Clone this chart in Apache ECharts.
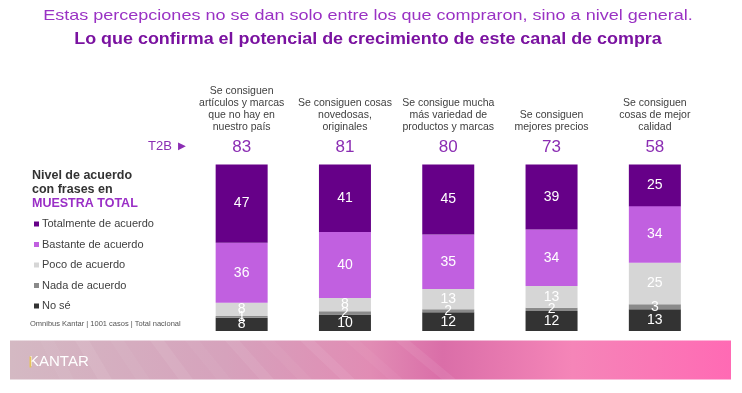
<!DOCTYPE html>
<html>
<head>
<meta charset="utf-8">
<script src="https://cdn.jsdelivr.net/npm/echarts@6/dist/echarts.min.js"></script>
<style>html,body{margin:0;padding:0;background:#fff}#c{width:742px;height:393px}</style>
</head>
<body>
<div id="c"></div>
<script>
const categories = [
  'Se consiguen\nartículos y marcas\nque no hay en\nnuestro país',
  'Se consiguen cosas\nnovedosas,\noriginales',
  'Se consigue mucha\nmás variedad de\nproductos y marcas',
  'Se consiguen\nmejores precios',
  'Se consiguen\ncosas de mejor\ncalidad'
];
const t2b = ['83', '81', '80', '73', '58'];
const totalmente = [47, 41, 45, 39, 25];
const bastante = [36, 40, 35, 34, 34];
const poco = [8, 8, 13, 13, 25];
const nada = [1, 2, 2, 2, 3];
const nose = [8, 10, 12, 12, 13];
const seriesNames = ['Totalmente de acuerdo', 'Bastante de acuerdo', 'Poco de acuerdo', 'Nada de acuerdo', 'No sé'];

const FONT = 'Liberation Sans, Arial, sans-serif';
const colors = {
  'Totalmente de acuerdo': '#660088',
  'Bastante de acuerdo': '#c160e0',
  'Poco de acuerdo': '#d6d6d6',
  'Nada de acuerdo': '#8a8a8a',
  'No sé': '#333333'
};
const rawByName = {
  'Totalmente de acuerdo': totalmente,
  'Bastante de acuerdo': bastante,
  'Poco de acuerdo': poco,
  'Nada de acuerdo': nada,
  'No sé': nose
};
const sums = categories.map((_, i) => totalmente[i] + bastante[i] + poco[i] + nada[i] + nose[i]);

const stackOrder = ['No sé', 'Nada de acuerdo', 'Poco de acuerdo', 'Bastante de acuerdo', 'Totalmente de acuerdo'];
const series = stackOrder.map(name => ({
  name: name,
  type: 'bar',
  stack: 'total',
  barWidth: 52,
  itemStyle: { color: colors[name] },
  label: {
    show: true,
    position: 'inside',
    color: '#ffffff',
    fontSize: 14,
    fontFamily: FONT,
    formatter: p => p.data.raw
  },
  data: rawByName[name].map((v, i) => ({ value: v / sums[i] * 100, raw: v }))
}));

// decorative stripes on the footer banner
const stripes = [];
const stripeXs = [40, 75, 110, 150, 185, 225, 260, 300, 345, 395];
stripeXs.forEach((x, k) => {
  stripes.push({
    type: 'polygon',
    shape: { points: [[x, 340.5], [x + 14, 340.5], [x + 34 + k * 3, 379.5], [x + 20 + k * 3, 379.5]] },
    style: { fill: 'rgba(255,255,255,' + (k % 2 ? 0.07 : 0.04) + ')' },
    z: 2, silent: true
  });
});

const chart = echarts.init(document.getElementById('c'), null, { renderer: 'canvas' });
chart.setOption({
  animation: false,
  textStyle: { fontFamily: FONT },
  grid: { left: 190, right: 35.5, top: 164.5, bottom: 62 },
  legend: {
    data: seriesNames,
    orient: 'vertical',
    left: 29,
    top: 212,
    icon: 'rect',
    itemWidth: 5,
    itemHeight: 5,
    itemGap: 6.5,
    selectedMode: false,
    textStyle: { fontSize: 11, color: '#404040', lineHeight: 14, padding: [0, 0, 0, -2] }
  },
  xAxis: [
    {
      type: 'category',
      position: 'top',
      data: categories,
      axisLine: { show: false },
      axisTick: { show: false },
      axisLabel: {
        interval: 0,
        margin: 31.5,
        fontSize: 10.5,
        lineHeight: 12,
        color: '#404040',
        align: 'center',
        verticalAlign: 'bottom'
      }
    },
    {
      type: 'category',
      position: 'top',
      data: t2b,
      axisLine: { show: false },
      axisTick: { show: false },
      axisLabel: {
        interval: 0,
        margin: 9,
        fontSize: 17,
        color: '#8b2db3',
        verticalAlign: 'bottom'
      }
    }
  ],
  yAxis: { type: 'value', min: 0, max: 100, show: false },
  series: series,
  graphic: [
    {
      type: 'text', x: 368, y: 16, scaleX: 1.2,
      style: { text: 'Estas percepciones no se dan solo entre los que compraron, sino a nivel general.', fontSize: 15, fill: '#9a32c4', fontFamily: FONT, align: 'center', verticalAlign: 'middle' }
    },
    {
      type: 'text', x: 368, y: 40, scaleX: 1.12,
      style: { text: 'Lo que confirma el potencial de crecimiento de este canal de compra', fontSize: 16, fontWeight: 'bold', fill: '#7a12a0', fontFamily: FONT, align: 'center', verticalAlign: 'middle' }
    },
    {
      type: 'text', left: 148, top: 140,
      style: { text: 'T2B \u25BA', fontSize: 13, fill: '#8b2db3', fontFamily: FONT }
    },
    {
      type: 'text', left: 32, top: 169,
      style: { text: 'Nivel de acuerdo\ncon frases en', fontSize: 12.5, lineHeight: 14, fontWeight: 'bold', fill: '#333333', fontFamily: FONT }
    },
    {
      type: 'text', left: 32, top: 197,
      style: { text: 'MUESTRA TOTAL', fontSize: 12.5, fontWeight: 'bold', fill: '#9a2fc6', fontFamily: FONT }
    },
    {
      type: 'text', left: 30, top: 320,
      style: { text: 'Omnibus Kantar | 1001 casos | Total nacional', fontSize: 7.5, fill: '#555555', fontFamily: FONT }
    },
    {
      type: 'rect', shape: { x: 10, y: 340.5, width: 721, height: 39 },
      style: {
        fill: new echarts.graphic.LinearGradient(0, 0, 1, 0, [
          { offset: 0, color: '#d4b9c3' },
          { offset: 0.3, color: '#d6a2bc' },
          { offset: 0.5, color: '#e18cb4' },
          { offset: 0.6, color: '#da6ea8' },
          { offset: 0.78, color: '#f585b8' },
          { offset: 1, color: '#ff6ab4' }
        ])
      },
      z: 1
    },
    ...stripes,
    {
      type: 'text', x: 29, y: 362,
      style: { text: 'KANTAR', fontSize: 15, fill: '#ffffff', fontFamily: FONT, verticalAlign: 'middle' },
      z: 3
    },
    {
      type: 'rect', shape: { x: 29.5, y: 356.5, width: 1.8, height: 11 },
      style: { fill: '#e6c45a' }, z: 4
    }
  ]
});
</script>
</body>
</html>
